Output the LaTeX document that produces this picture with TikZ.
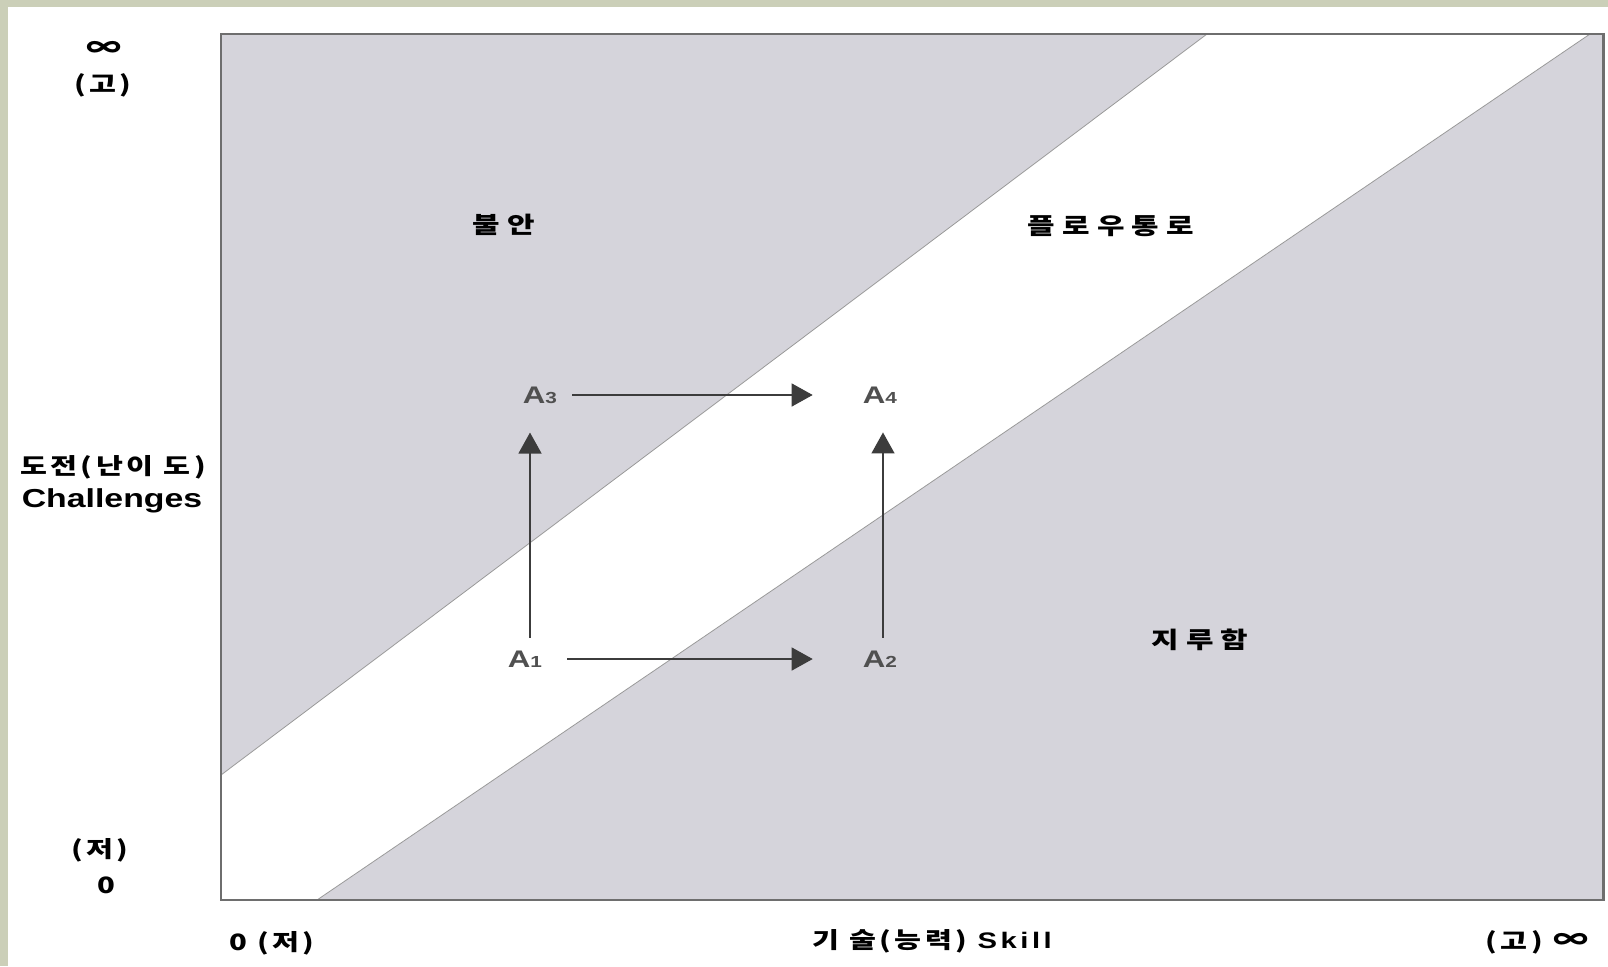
\documentclass[tikz,border=0pt]{standalone}
\usepackage{fontspec}
\newfontfamily\krfont{Noto Sans CJK KR}[LetterSpace=12]
\newfontfamily\krwide{Noto Sans CJK KR}[LetterSpace=24]
\newfontfamily\lafont{Liberation Sans}
\usetikzlibrary{arrows.meta,calc}

\definecolor{framegreen}{HTML}{CBCFB8}
\definecolor{zonegray}{HTML}{D5D4DB}
\definecolor{boxline}{HTML}{6E6E6E}
\definecolor{arrowgray}{HTML}{3C3C3C}
\definecolor{labelgray}{HTML}{505050}

\tikzset{
  txt/.style={inner sep=0pt, xscale=1.3},
  zone/.style={txt, font=\krwide\bfseries\fontsize{23}{23}\selectfont},
  axislabel/.style={txt, font=\krfont\bfseries\fontsize{22.5}{24}\selectfont},
  ptlabel/.style={txt, text=labelgray, font=\lafont\bfseries\fontsize{24}{24}\selectfont},
  move/.style={draw=arrowgray, line width=1.3pt, -{Triangle[length=21pt,width=23pt]}},
  zoneline/.style={draw=black!40, line width=0.8pt},
}

\begin{document}
\begin{tikzpicture}[x=1pt,y=-1pt]
\useasboundingbox (0,0) rectangle (1608,966);
%frame
	\fill[framegreen] (0,0) rectangle (1608,966);
	\fill[white] (8,7) rectangle (1608,966);
	
	%zones
	\fill[zonegray] (221,34) rectangle (1603,900);
	\fill[white] (221,775) -- (1207,34) -- (1590,34) -- (317,900) -- (221,900) -- cycle;
	\draw[zoneline] (221,775) -- (1207,34); \draw[zoneline] (317,900) -- (1590,34);
	\draw[boxline, line width=1.5pt] (221,34) rectangle (1603,900);
	\draw[boxline, line width=3pt] (1603,33) -- (1603,901);
	
	%zone names
	\node[zone] (anxiety) at (504,225) {불안};
	\node[zone] (channel) at (1111,226) {플로우통로};
	\node[zone] (boredom) at (1200,640) {지루함};
	
	%states
	\node[ptlabel] (a1) at (525,659) {A{\fontsize{16}{16}\selectfont 1}};
	\node[ptlabel] (a2) at (880,659) {A{\fontsize{16}{16}\selectfont 2}};
	\node[ptlabel] (a3) at (540,395) {A{\fontsize{16}{16}\selectfont 3}};
	\node[ptlabel] (a4) at (880,395) {A{\fontsize{16}{16}\selectfont 4}};
	\draw[move] ($(a1.east)+(25,0)$) -- ($(a2.west)+(-50,0)$);
	\draw[move] ($(a3.east)+(15,0)$) -- ($(a4.west)+(-50,0)$);
	\draw[move] ($(a1.north)+(5,-13)$) -- ($(a1.north |- a3.south)+(5,29)$);
	\draw[move] ($(a2.north)+(3,-13)$) -- ($(a2.north |- a4.south)+(3,29)$);
	
	%challenge axis
	\node[axislabel, font=\krfont\bfseries\fontsize{27}{27}\selectfont] (cinf) at (104,49) {∞};
	\node[axislabel] (chigh) at (103,85) {(고)};
	\node[axislabel] (cname) at (113,467) {도전(난이 도)};
	\node[txt, font=\lafont\bfseries\fontsize{26}{26}\selectfont] (cname2) at (112,501) {Challenges};
	\node[axislabel] (clow) at (100,850) {(저)};
	\node[axislabel] (czero) at (106,885) {0};
	
	%skill axis
	\node[axislabel] (szero) at (272,943) {0 (저)};
	\node[axislabel] (sname) at (932,941) {기 술(능력) {\lafont\addfontfeature{LetterSpace=12}Skill}};
	\node[axislabel] (shigh) at (1537,942) {(고) {\fontsize{27}{27}\selectfont ∞}};
\end{tikzpicture}
\end{document}
